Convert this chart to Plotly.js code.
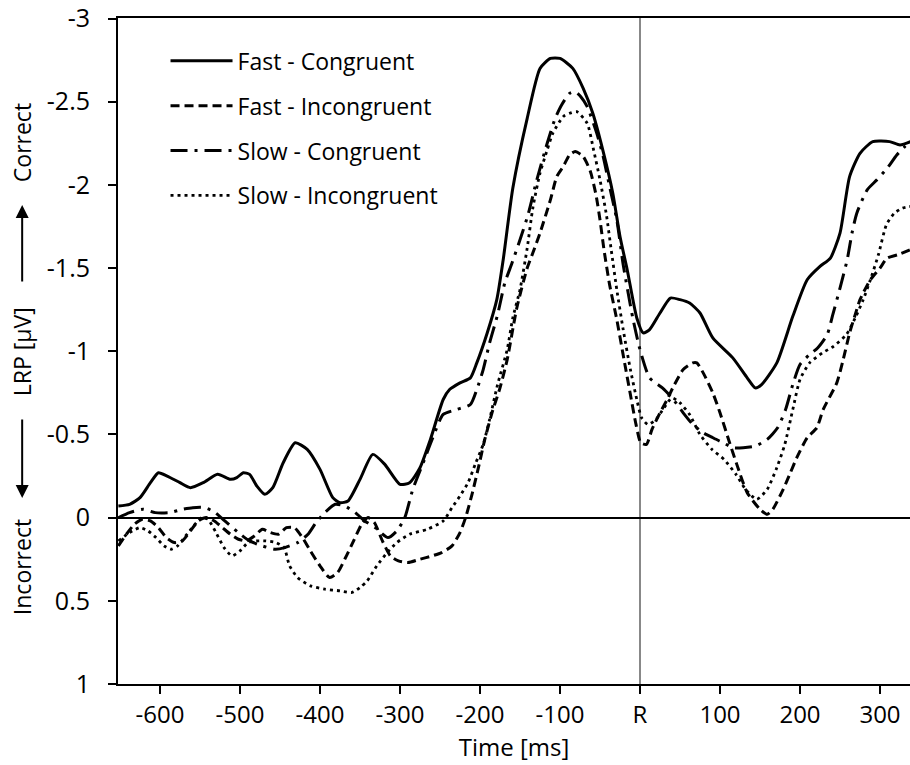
<!DOCTYPE html>
<html>
<head>
<meta charset="utf-8">
<script src="https://cdn.plot.ly/plotly-3.0.1.min.js"></script>
<style>html,body{margin:0;padding:0;background:#fff;}#chart{width:910px;height:765px;}</style>
</head>
<body>
<div id="chart"></div>
<script>
// Series names
const seriesNames = ['Fast - Congruent', 'Fast - Incongruent', 'Slow - Congruent', 'Slow - Incongruent'];

// Fast - Congruent (time ms, LRP µV)
const fastCongT = [-652,-638,-625,-612,-602,-591,-575,-562,-546,-528,-512,-504,-496,-488,-479,-469,-459,-446,-431,-416,-400,-384,-375,-365,-350,-334,-319,-300,-288,-275,-262,-246,-238,-225,-212,-204,-191,-179,-171,-159,-141,-125,-112,-100,-84,-71,-59,-46,-34,-25,-16,-4,4,12,25,38,50,62,75,91,116,134,144,152,171,191,209,225,238,250,262,275,291,312,325,338];
const fastCongV = [-0.07,-0.08,-0.12,-0.21,-0.27,-0.25,-0.21,-0.18,-0.21,-0.26,-0.23,-0.24,-0.27,-0.26,-0.19,-0.14,-0.18,-0.33,-0.45,-0.41,-0.29,-0.12,-0.09,-0.10,-0.23,-0.38,-0.32,-0.20,-0.21,-0.30,-0.47,-0.71,-0.77,-0.81,-0.84,-0.93,-1.11,-1.31,-1.55,-1.98,-2.40,-2.70,-2.76,-2.76,-2.70,-2.58,-2.43,-2.20,-1.95,-1.69,-1.49,-1.20,-1.11,-1.13,-1.23,-1.32,-1.31,-1.29,-1.23,-1.08,-0.96,-0.84,-0.78,-0.80,-0.93,-1.21,-1.43,-1.51,-1.56,-1.71,-2.05,-2.19,-2.26,-2.26,-2.24,-2.26];

// Fast - Incongruent
const fastIncT = [-652,-642,-632,-622,-612,-602,-592,-582,-572,-562,-552,-542,-532,-522,-512,-502,-492,-482,-472,-462,-452,-442,-432,-422,-412,-400,-388,-378,-368,-358,-348,-340,-332,-322,-312,-302,-290,-275,-260,-248,-235,-225,-218,-210,-202,-194,-185,-175,-166,-154,-141,-134,-125,-112,-104,-96,-88,-81,-71,-62,-55,-50,-45,-38,-29,-20,-12,-5,1,8,15,25,34,41,54,66,71,79,91,100,112,121,134,150,159,166,179,188,196,209,221,229,246,254,262,269,275,288,300,309,322,338];
const fastIncV = [0.17,0.10,0.04,0.01,0.02,0.06,0.12,0.15,0.14,0.08,0.02,0.00,0.02,0.06,0.10,0.13,0.14,0.11,0.07,0.09,0.10,0.06,0.06,0.12,0.20,0.29,0.36,0.33,0.24,0.14,0.04,0.00,0.03,0.14,0.23,0.26,0.27,0.25,0.23,0.21,0.17,0.09,0.00,-0.14,-0.30,-0.47,-0.63,-0.78,-0.95,-1.26,-1.50,-1.59,-1.71,-1.91,-2.05,-2.11,-2.18,-2.20,-2.17,-2.08,-1.94,-1.79,-1.61,-1.40,-1.19,-0.95,-0.74,-0.56,-0.45,-0.44,-0.53,-0.63,-0.71,-0.78,-0.89,-0.93,-0.93,-0.87,-0.75,-0.63,-0.45,-0.32,-0.15,-0.05,-0.02,-0.05,-0.17,-0.27,-0.36,-0.48,-0.54,-0.65,-0.81,-0.95,-1.11,-1.22,-1.31,-1.43,-1.50,-1.56,-1.58,-1.61];

// Slow - Congruent
const slowCongT = [-652,-638,-621,-606,-588,-572,-559,-544,-531,-519,-502,-488,-472,-456,-444,-428,-415,-405,-394,-381,-369,-356,-344,-331,-315,-304,-294,-284,-271,-259,-246,-229,-212,-204,-196,-188,-178,-169,-160,-150,-140,-129,-116,-106,-98,-88,-81,-74,-66,-54,-46,-38,-29,-21,-9,0,12,28,40,54,66,79,91,104,116,129,144,159,172,182,191,200,212,222,234,241,250,259,265,271,284,296,309,321,331,338];
const slowCongV = [0.00,-0.03,-0.05,-0.03,-0.03,-0.05,-0.06,-0.06,-0.03,0.02,0.09,0.14,0.17,0.19,0.18,0.15,0.10,0.03,-0.03,-0.08,-0.07,-0.03,0.02,0.06,0.12,0.08,0.00,-0.17,-0.33,-0.48,-0.62,-0.65,-0.68,-0.77,-0.89,-1.05,-1.22,-1.41,-1.53,-1.67,-1.82,-2.03,-2.25,-2.40,-2.48,-2.55,-2.56,-2.53,-2.47,-2.31,-2.17,-1.99,-1.79,-1.52,-1.20,-1.01,-0.84,-0.78,-0.72,-0.63,-0.56,-0.51,-0.48,-0.45,-0.42,-0.42,-0.43,-0.47,-0.54,-0.65,-0.80,-0.92,-0.98,-1.02,-1.10,-1.22,-1.38,-1.55,-1.71,-1.83,-1.97,-2.03,-2.10,-2.18,-2.23,-2.26];

// Slow - Incongruent
const slowIncT = [-652,-638,-625,-615,-605,-595,-586,-578,-568,-558,-548,-540,-530,-520,-510,-500,-490,-480,-468,-455,-445,-438,-428,-412,-394,-375,-360,-350,-341,-329,-316,-304,-288,-266,-246,-235,-225,-215,-206,-196,-188,-178,-166,-159,-150,-141,-134,-125,-116,-109,-96,-88,-79,-66,-58,-50,-42,-36,-29,-21,-12,-4,2,10,20,30,40,50,62,75,90,105,120,132,146,159,171,181,191,200,212,228,242,258,269,279,288,298,308,318,328,338];
const slowIncV = [0.14,0.09,0.06,0.08,0.12,0.17,0.19,0.17,0.11,0.05,0.00,0.01,0.09,0.18,0.23,0.20,0.15,0.14,0.14,0.15,0.18,0.29,0.36,0.41,0.43,0.44,0.45,0.42,0.38,0.29,0.21,0.15,0.10,0.07,0.02,-0.06,-0.13,-0.21,-0.32,-0.44,-0.59,-0.80,-1.01,-1.20,-1.37,-1.62,-1.86,-2.07,-2.21,-2.31,-2.41,-2.43,-2.44,-2.37,-2.21,-2.03,-1.82,-1.61,-1.37,-1.13,-0.89,-0.71,-0.60,-0.56,-0.59,-0.66,-0.72,-0.69,-0.62,-0.50,-0.41,-0.35,-0.26,-0.17,-0.11,-0.17,-0.30,-0.44,-0.65,-0.83,-0.93,-0.99,-1.03,-1.10,-1.20,-1.31,-1.43,-1.58,-1.76,-1.83,-1.86,-1.87];

// Axis ticks
const xTickVals = [-600,-500,-400,-300,-200,-100,0,100,200,300];
const xTickText = ['-600','-500','-400','-300','-200','-100','R','100','200','300'];
const yTickVals = [-3,-2.5,-2,-1.5,-1,-0.5,0,0.5,1];
const yTickText = ['-3','-2.5','-2','-1.5','-1','-0.5','0','0.5','1'];

const FONT = '"Open Sans", "DejaVu Sans", sans-serif';
const dashes = ['solid', '9px,5px', '17px,7px,3px,7px', '3px,4px'];
const widths = [3, 3, 3, 2.8];
const xs = [fastCongT, fastIncT, slowCongT, slowIncT];
const ys = [fastCongV, fastIncV, slowCongV, slowIncV];

const traces = seriesNames.map((name, i) => ({
  type: 'scatter', mode: 'lines', name: name,
  x: xs[i], y: ys[i],
  line: {color: '#000', width: widths[i], dash: dashes[i], shape: 'spline', smoothing: 0.6},
  legendgroup: 'g' + i,
  hoverinfo: 'skip'
}));

const axX = -0.121;
const layout = {
  width: 910, height: 765,
  margin: {l: 118, r: 0, t: 18, b: 81, pad: 0},
  paper_bgcolor: '#fff', plot_bgcolor: '#fff',
  font: {family: FONT, color: '#000', size: 24},
  showlegend: true,
  legend: {
    x: 0.060, y: 0.968, xanchor: 'left', yanchor: 'top',
    bgcolor: 'rgba(0,0,0,0)', borderwidth: 0,
    font: {family: FONT, size: 23, color: '#000'},
    traceorder: 'grouped', tracegroupgap: 12, itemwidth: 62
  },
  xaxis: {
    range: [-652.5, 337.5], autorange: false,
    tickvals: xTickVals, ticktext: xTickText,
    ticks: 'outside', ticklen: 8, tickwidth: 2, tickcolor: '#000',
    showline: true, linecolor: '#000', linewidth: 2, mirror: true,
    showgrid: false,
    zeroline: true, zerolinecolor: '#888', zerolinewidth: 2,
    tickfont: {family: FONT, size: 24, color: '#000'},
    title: {text: 'Time [ms]', font: {family: FONT, size: 24, color: '#000'}, standoff: 5}
  },
  yaxis: {
    range: [1.0, -3.003], autorange: false,
    tickvals: yTickVals, ticktext: yTickText,
    ticks: 'outside', ticklen: 8, tickwidth: 2, tickcolor: '#000',
    showline: true, linecolor: '#000', linewidth: 2,
    showgrid: false,
    zeroline: true, zerolinecolor: '#000', zerolinewidth: 2,
    tickfont: {family: FONT, size: 25, color: '#000'},
    ticklabelstandoff: 13
  },
  annotations: [
    {xref: 'paper', yref: 'paper', x: axX, y: (684 - 143) / 666, xanchor: 'center', yanchor: 'middle', text: 'Correct', textangle: -90, showarrow: false, font: {family: FONT, size: 23, color: '#000'}},
    {xref: 'paper', yref: 'paper', x: axX, y: (684 - 352) / 666, xanchor: 'center', yanchor: 'middle', text: 'LRP [μV]', textangle: -90, showarrow: false, font: {family: FONT, size: 23, color: '#000'}},
    {xref: 'paper', yref: 'paper', x: axX, y: (684 - 567) / 666, xanchor: 'center', yanchor: 'middle', text: 'Incorrect', textangle: -90, showarrow: false, font: {family: FONT, size: 23, color: '#000'}},
    {xref: 'paper', yref: 'paper', x: axX, y: (684 - 205) / 666, text: '', showarrow: true, ax: 0, ay: 78, arrowhead: 2, arrowsize: 1.3, arrowwidth: 2, arrowcolor: '#000', standoff: 0},
    {xref: 'paper', yref: 'paper', x: axX, y: (684 - 498) / 666, text: '', showarrow: true, ax: 0, ay: -80, arrowhead: 2, arrowsize: 1.3, arrowwidth: 2, arrowcolor: '#000', standoff: 0}
  ]
};

Plotly.newPlot('chart', traces, layout, {displayModeBar: false, staticPlot: true});
</script>
</body>
</html>
